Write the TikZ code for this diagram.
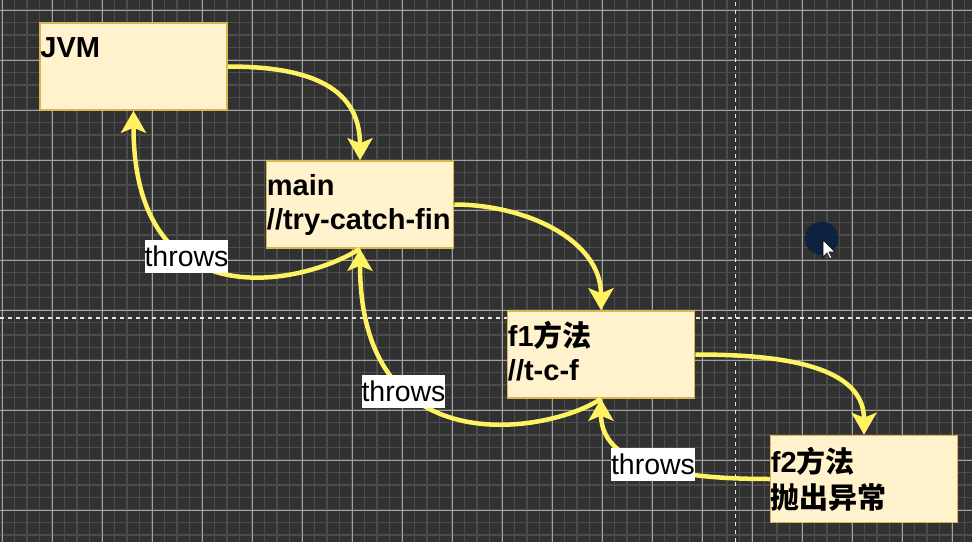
\documentclass[tikz,border=0pt]{standalone}
\usepackage{fontspec}
\setmainfont{Liberation Sans}
\newfontfamily\cjk{Noto Sans CJK SC}
\usetikzlibrary{arrows.meta,positioning}

\definecolor{bgdark}{HTML}{313131}
\definecolor{gridminor}{HTML}{4C4C4C}
\definecolor{gridmajor}{HTML}{A2A2A2}
\definecolor{notefill}{HTML}{FFF2CC}
\definecolor{notedraw}{HTML}{D6B656}
\definecolor{flow}{HTML}{FFF263}
\definecolor{cursorblue}{HTML}{0A2140}

\tikzset{
  box/.style={draw=notedraw, fill=notefill, line width=1.5pt,
    minimum width=187pt, minimum height=87pt, inner sep=0pt},
  boxtext/.style={inner sep=0pt, align=left,
    font=\fontsize{29}{34}\selectfont\bfseries},
  call/.style={draw=flow, line width=4.5pt,
    -{Stealth[length=22pt,width=25pt,inset=5pt]}},
  throwlabel/.style={fill=white, inner xsep=0pt, inner ysep=0pt,
    minimum height=33pt, font=\fontsize{28.5}{33}\selectfont},
  guide/.style={draw=white!80!gray, line width=1.2pt, dash pattern=on 4pt off 4pt},
}

\begin{document}
\begin{tikzpicture}[x=1pt,y=1pt]
    \useasboundingbox (0,0) rectangle (972,542);
    % Canvas:
    % dark page with a fine grid and a coarse grid on top of it
    \fill[bgdark] (0,0) rectangle (972,542);
    \foreach \i in {0,...,77}{%
        \draw[gridminor, line width=1.2pt] ({2+12.5*\i},0) -- ({2+12.5*\i},542);
    }
    \foreach \j in {0,...,42}{%
        \draw[gridminor, line width=1.2pt] (0,{532-12.5*\j}) -- (972,{532-12.5*\j});
    }
    \foreach \i in {0,...,19}{%
        \draw[gridmajor, line width=0.8pt] ({2+50*\i},0) -- ({2+50*\i},542);
    }
    \foreach \j in {0,...,10}{%
        \draw[gridmajor, line width=0.8pt] (0,{532-50*\j}) -- (972,{532-50*\j});
    }
    \draw[guide] (0,224) -- (972,224);
    \draw[guide] (735.5,0) -- (735.5,542);

    % Boxes:
    \node[box] (jvm)  at (133.5,475.5) {};
    \node[box] (main) at (360,337.5)   {};
    \node[box] (f1)   at (601,187.5)   {};
    \node[box] (f2)   at (864,63)      {};

    \node[boxtext, below right=11pt and 1pt of jvm.north west]  (jvmtext)  {\strut JVM};
    \node[boxtext, below right=11pt and 1pt of main.north west] (maintext) {\strut main\\\strut //try-catch-fin};
    \node[boxtext, below right=11pt and 1pt of f1.north west]   (f1text)   {\strut f1{\cjk 方法}\\\strut //t-c-f};
    \node[boxtext, below right=12pt and 1pt of f2.north west]   (f2text)   {\strut f2{\cjk 方法}\\\strut{\cjk 抛出异常}};

    % Calls go down:
    \draw[call] (jvm.east)  to[out=0,in=90,looseness=1.2] (main.north);
    \draw[call] (main.east) to[out=0,in=90] (f1.north);
    \draw[call] (f1.east)   to[out=0,in=90] (f2.north);

    % Exceptions go back up:
    \draw[call] (main.south) .. controls +(-58,-37) and +(0,-210) .. (jvm.south);
    \draw[call] (f1.south)   .. controls +(-46,-32) and +(0,-222) .. (main.south);
    \draw[call] (f2.west)    to[out=180,in=-90] (f1.south);

    \node[throwlabel] (throwsa) at (186.5,286)  {throws};
    \node[throwlabel] (throwsb) at (403.5,150.5) {throws};
    \node[throwlabel] (throwsc) at (653,78)      {throws};

    % mouse pointer
    \fill[cursorblue, fill opacity=0.9] (821.7,303.7) circle (16.7);
    \draw[black, fill=white, line width=0.6pt] (823,302) -- ++(0,-17) -- ++(4,4) -- ++(3,-6)
        -- ++(2,1) -- ++(-3,6) -- ++(6,0) -- cycle;
\end{tikzpicture}
\end{document}
